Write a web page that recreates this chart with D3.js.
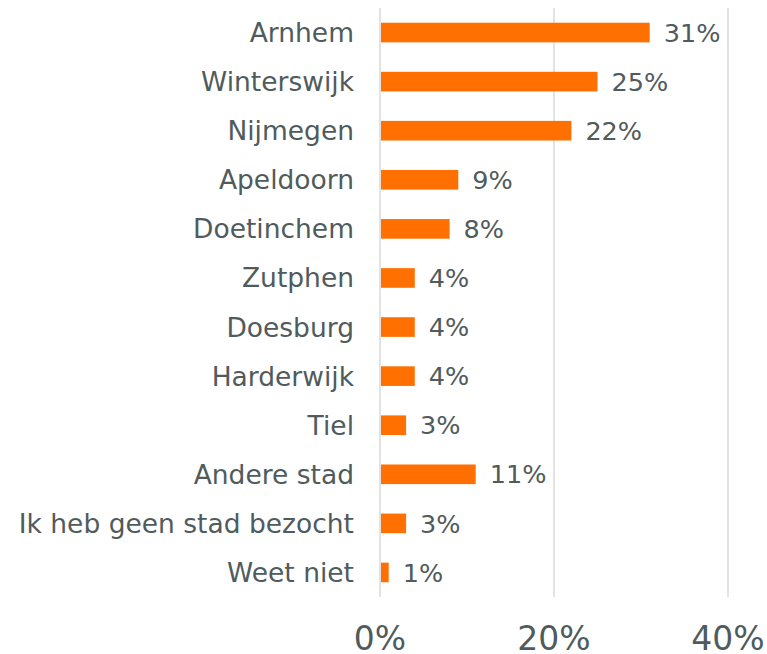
<!DOCTYPE html>
<html>
<head>
<meta charset="utf-8">
<script src="https://cdn.jsdelivr.net/npm/d3@7"></script>
<style>
  body { margin: 0; background: #fff; }
  text { font-family: "DejaVu Sans", Verdana, sans-serif; fill: #505b5c; }
</style>
</head>
<body>
<div id="chart"></div>
<script>
// data
var cities = ["Arnhem", "Winterswijk", "Nijmegen", "Apeldoorn", "Doetinchem", "Zutphen",
  "Doesburg", "Harderwijk", "Tiel", "Andere stad", "Ik heb geen stad bezocht", "Weet niet"];
var percents = [31, 25, 22, 9, 8, 4, 4, 4, 3, 11, 3, 1];
var ticks = [0, 20, 40];

var width = 767, height = 654;
var margin = { top: 8, right: 39, bottom: 57, left: 380 };

var svg = d3.select("#chart").append("svg")
    .attr("width", width)
    .attr("height", height);

var x = d3.scaleLinear()
    .domain([0, 40])
    .range([margin.left, width - margin.right]);

var y = d3.scaleBand()
    .domain(cities)
    .range([margin.top, height - margin.bottom])
    .paddingInner(0.6)
    .paddingOuter(0.3);

// gridlines
svg.selectAll("line.grid")
    .data(ticks)
    .enter().append("line")
    .attr("class", "grid")
    .attr("x1", function(d) { return x(d); })
    .attr("x2", function(d) { return x(d); })
    .attr("y1", margin.top)
    .attr("y2", height - margin.bottom)
    .style("stroke", "#d9d9d9")
    .style("stroke-width", 1.5);

// bars
svg.selectAll("rect.bar")
    .data(cities)
    .enter().append("rect")
    .attr("class", "bar")
    .attr("x", x(0) + 1)
    .attr("y", function(d) { return y(d); })
    .attr("width", function(d, i) { return x(percents[i]) - x(0) - 1; })
    .attr("height", y.bandwidth())
    .style("fill", "#ff7000");

// category labels
svg.selectAll("text.cat")
    .data(cities)
    .enter().append("text")
    .attr("class", "cat")
    .attr("x", x(0) - 26)
    .attr("y", function(d) { return y(d) + y.bandwidth() / 2; })
    .attr("dy", "0.36em")
    .attr("text-anchor", "end")
    .style("font-size", "26.5px")
    .text(function(d) { return d; });

// value labels
svg.selectAll("text.val")
    .data(cities)
    .enter().append("text")
    .attr("class", "val")
    .attr("x", function(d, i) { return x(percents[i]) + 14; })
    .attr("y", function(d) { return y(d) + y.bandwidth() / 2; })
    .attr("dy", "0.36em")
    .style("font-size", "25.5px")
    .text(function(d, i) { return percents[i] + "%"; });

// axis tick labels
svg.selectAll("text.tick")
    .data(ticks)
    .enter().append("text")
    .attr("class", "tick")
    .attr("x", function(d) { return x(d); })
    .attr("y", 650)
    .attr("text-anchor", "middle")
    .style("font-size", "33px")
    .text(function(d) { return d + "%"; });
</script>
</body>
</html>
